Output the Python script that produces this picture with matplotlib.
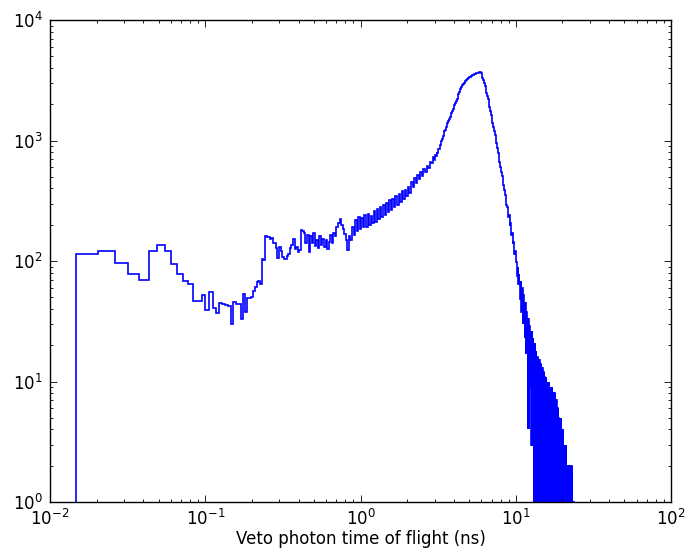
import numpy as np
import matplotlib
matplotlib.use("Agg")
import matplotlib.pyplot as plt

# counts in the first linear bins (width 0.0057 ns, starting at 0.0148 ns)
lin_start = 0.0148
lin_width = 0.0057
counts_lin = [114, 122, 97, 78, 69, 122, 135, 122, 94, 78,
              68, 65, 47, 47, 52, 39, 55, 41, 37, 45,
              44, 43, 42, 30, 46, 44, 44, 33, 53, 38,
              49, 49, 50, 56, 61, 67, 68, 65, 104, 102,
              162, 157]

# counts in log bins of 0.01 decade after that, up to ~2.9 ns
counts_mid = [157, 151, 155, 140, 140, 129, 105, 131, 120, 107,
              103, 104, 110, 115, 127, 136, 151, 125, 131, 119,
              123, 181, 178, 170, 140, 164, 119, 161, 140, 170,
              133, 150, 128, 160, 135, 152, 130, 148, 126, 145,
              165, 140, 172, 160, 190, 205, 222, 200, 185, 168,
              150, 123, 160, 150, 190, 165, 220, 178, 232, 185,
              228, 190, 240, 192, 245, 200, 238, 205, 262, 212,
              268, 222, 280, 230, 290, 240, 305, 255, 318, 265,
              330, 280, 345, 292, 362, 310, 378, 328, 392, 345,
              415, 370, 450, 410, 492, 448, 520, 480, 552, 510,
              578, 545, 615, 595, 668, 650]
mid_step = 0.01

# counts in log bins of 0.005 decade, peak region up to ~10 ns
counts_peak = [690, 725, 695, 755, 750, 800, 790, 850, 850, 910,
               925, 995, 1020, 1090, 1110, 1190, 1220, 1300, 1335, 1405,
               1460, 1520, 1580, 1640, 1700, 1770, 1840, 1900, 1980, 2050,
               2130, 2230, 2330, 2440, 2550, 2650, 2730, 2800, 2880, 2950,
               3010, 3070, 3130, 3180, 3230, 3280, 3320, 3360, 3390, 3420,
               3450, 3480, 3500, 3530, 3550, 3580, 3610, 3630, 3660, 3690,
               3720, 3700, 3600, 3450, 3300, 3150, 2980, 2820, 2660, 2500,
               2350, 2200, 2050, 1900, 1760, 1620, 1510, 1400, 1300, 1210,
               1120, 1030, 950, 870, 790, 720, 660, 600, 550, 510,
               470, 430, 390, 355, 320, 290, 280, 232, 240, 195,
               205, 165, 172, 138, 145, 115, 120, 98]
peak_step = 0.005

# noisy tail beyond ~10 ns: upper and lower envelope per 0.01 decade
tail_hi = [90, 78, 68, 60, 52, 45, 38, 33, 29, 26,
           23, 21, 18, 16, 15, 14, 13, 12, 11, 10,
           10, 9, 9, 8, 8, 7, 6, 5, 5, 4,
           3, 3, 2, 2, 2, 2, 1, 1]
tail_lo = [75, 64, 48, 38, 30, 23, 17, 4, 9, 3,
           3, 0, 0, 0, 0, 0, 0, 0, 0, 0,
           0, 0, 0, 0, 0, 0, 0, 0, 0, 0,
           0, 0, 0, 0, 0, 0, 0, 0]
tail_step = 0.01
sub = 6

edges_lin = lin_start + lin_width * np.arange(len(counts_lin) + 1)
edges_mid = edges_lin[-1] * 10 ** (mid_step * np.arange(1, len(counts_mid) + 1))
edges_peak = edges_mid[-1] * 10 ** (peak_step * np.arange(1, len(counts_peak) + 1))
edges_tail = edges_peak[-1] * 10 ** (tail_step / sub * np.arange(1, sub * len(tail_hi) + 1))
counts_tail = np.column_stack([tail_hi, tail_lo] * (sub // 2)).ravel()

edges = np.concatenate([edges_lin, edges_mid, edges_peak, edges_tail])
counts = np.concatenate([counts_lin, counts_mid, counts_peak, counts_tail]).astype(float)

plt.rcParams['font.family'] = ['DejaVu Sans']
plt.rcParams['axes.unicode_minus'] = False

fig = plt.figure(figsize=(6.88, 5.5), dpi=100)
ax = fig.add_axes([50 / 688, 48 / 550, 621 / 688, 482 / 550])
ax.stairs(counts, edges, baseline=0, color='b', linewidth=1.2)
ax.set_xscale('log')
ax.set_yscale('log')
ax.set_xlim(1e-2, 1e2)
ax.set_ylim(1, 1e4)
ax.set_xlabel("Veto photon time of flight (ns)", fontsize=12, labelpad=1)
ax.tick_params(which='both', direction='in', top=True, right=True, labelsize=12)
ax.tick_params(which='major', length=5, width=0.6, pad=5)
ax.tick_params(which='minor', length=2.5, width=0.6)
for s in ax.spines.values():
    s.set_linewidth(1.0)

fig.savefig("out.png", dpi=100, facecolor='white')
